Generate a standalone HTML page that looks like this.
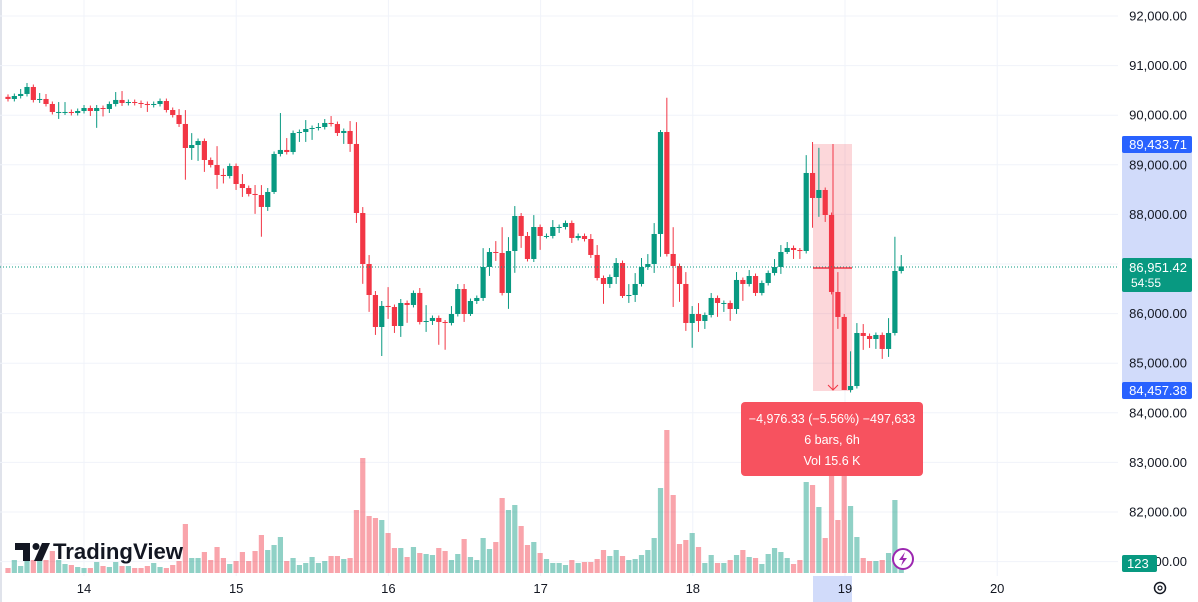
<!DOCTYPE html>
<html><head><meta charset="utf-8"><style>
html,body{margin:0;padding:0;background:#fff;width:1198px;height:602px;overflow:hidden}
svg{display:block;font-family:"Liberation Sans",sans-serif}
</style></head><body>
<svg id="chart" width="1198" height="602" viewBox="0 0 1198 602" xmlns="http://www.w3.org/2000/svg">
<rect x="0" y="0" width="2" height="602" fill="#e0e3eb"/>
<g id="grid"></g>
<g id="vol"></g>
<rect x="813" y="144" width="39" height="247" fill="rgba(242,54,69,0.2)"/>
<g id="candles"></g>
<line x1="0" y1="267" x2="1118" y2="267" stroke="#089981" stroke-width="1" stroke-dasharray="1,2"/>
<line x1="813" y1="268" x2="852" y2="268" stroke="#f23645" stroke-width="1.5"/>
<line x1="833" y1="144" x2="833" y2="390" stroke="#f23645" stroke-width="1"/>
<polyline points="828,385 833,390 838,385" fill="none" stroke="#f23645" stroke-width="1"/>
<g>
<rect x="741" y="402" width="182" height="74" rx="4" fill="#f7525f"/>
<text x="832" y="423" fill="#fff" font-size="12.5" text-anchor="middle">−4,976.33 (−5.56%) −497,633</text>
<text x="832" y="444" fill="#fff" font-size="12.5" text-anchor="middle">6 bars, 6h</text>
<text x="832" y="465" fill="#fff" font-size="12.5" text-anchor="middle">Vol 15.6 K</text>
</g>
<g id="yaxis">
<rect x="1122" y="136" width="70" height="262" fill="#d1dbfa"/>
</g>
<g id="xaxis">
<rect x="813" y="576" width="39" height="26" fill="#d1dbfa"/>
</g>
<g>
<rect x="1122" y="136" width="70" height="17" rx="2" fill="#2962ff"/>
<text x="1187" y="149" fill="#fff" font-size="13" text-anchor="end">89,433.71</text></g>
<g>
<rect x="1122" y="382" width="70" height="17" rx="2" fill="#2962ff"/>
<text x="1187" y="395" fill="#fff" font-size="13" text-anchor="end">84,457.38</text></g>
<g>
<rect x="1122" y="258" width="70" height="34" rx="2" fill="#089981"/>
<text x="1187" y="272" fill="#fff" font-size="13" text-anchor="end">86,951.42</text>
<text x="1131" y="287" fill="#fff" font-size="12">54:55</text></g>
<g>
<rect x="1122" y="555" width="35" height="17" rx="2" fill="#089981"/>
<text x="1127" y="568" fill="#fff" font-size="13">123</text></g>
<g>
<circle cx="1160" cy="588" r="5.5" fill="none" stroke="#131722" stroke-width="1.5"/>
<circle cx="1160" cy="588" r="2" fill="none" stroke="#131722" stroke-width="1.2"/></g>
<g>
<circle cx="903" cy="559" r="10" fill="#fff" stroke="#9c27b0" stroke-width="2"/>
<path d="M905,552 L899,560 L903,560 L901,566 L907,558 L903,558 Z" fill="#9c27b0"/></g>
<g>
<path d="M15,543 H30 V561 H23 V550 H15 Z" fill="#131722"/>
<circle cx="36" cy="546.5" r="3.5" fill="#131722"/>
<path d="M42,543 H50 L42,561 H34 Z" fill="#131722"/>
<text x="53" y="559" font-size="22.5" font-weight="bold" fill="#131722" textLength="130" lengthAdjust="spacingAndGlyphs">TradingView</text></g>
</svg>
<script>
const priceTicks=[92000,91000,90000,89000,88000,87000,86000,85000,84000,83000,82000,81000];
const dayLabels=["14","15","16","17","18","19","20"];
const closes=[90327,90387,90428,90569,90307,90327,90226,90065,90065,90065,
90044,90085,90145,90085,90145,90125,90226,90307,90246,90266,
90246,90226,90206,90226,90286,90105,90004,89823,89339,89399,
89480,89097,88996,88795,88774,88976,88613,88532,88412,88391,
88150,88452,89218,89299,89258,89641,89661,89722,89742,89762,
89843,89822,89641,89682,89420,88028,87000,86375,85730,86154,
86133,85750,86214,86174,86416,85831,85851,85912,85831,85811,
85992,86496,85992,86254,86315,86940,87242,87222,86416,87262,
87968,87565,87101,87746,87565,87565,87746,87746,87827,87525,
87565,87504,87182,86718,86597,86738,87020,86355,86375,86597,
86940,87000,87605,89661,87202,86960,86597,85811,85992,85851,
85972,86315,86214,86214,86093,86678,86597,86758,86416,86617,
86819,86940,87242,87323,87282,87262,88835,88331,88492,87988,
86436,85932,84460,84540,85609,85549,85488,85569,85287,85609,
86859,86951];
const opens=[90370,90327,90387,90428,90569,90307,90327,90226,90065,90065,
90065,90044,90085,90145,90085,90145,90125,90226,90307,90246,
90266,90246,90226,90206,90226,90286,90105,90004,89823,89339,
89399,89480,89097,88996,88795,88774,88976,88613,88532,88412,
88391,88150,88452,89218,89299,89258,89641,89661,89722,89742,
89762,89843,89822,89641,89682,89420,88028,87000,86375,85730,
86154,86133,85750,86214,86174,86416,85831,85851,85912,85831,
85811,85992,86496,85992,86254,86315,86940,87242,87222,86416,
87262,87968,87565,87101,87746,87565,87565,87746,87746,87827,
87525,87565,87504,87182,86718,86597,86738,87020,86355,86375,
86597,86940,87000,87605,89661,87202,86960,86597,85811,85992,
85851,85972,86315,86214,86214,86093,86678,86597,86758,86416,
86617,86819,86940,87242,87323,87282,87262,88835,88331,88492,
87988,86436,85932,84460,84540,85609,85549,85488,85569,85287,
85609,86859];
const upWick=[50,50,100,80,50,120,100,50,200,200,
50,50,60,50,60,50,50,160,180,50,
50,50,50,50,50,50,50,120,280,240,
50,50,50,380,130,50,50,200,50,180,
200,80,50,745,240,50,50,180,50,80,
80,140,50,50,200,440,120,180,80,100,
380,50,80,50,50,100,320,50,50,40,
160,100,100,50,50,380,80,220,520,280,
200,60,80,240,50,50,140,50,50,50,
50,50,100,200,50,50,100,50,220,220,
180,200,220,40,690,540,50,240,160,220,
50,100,50,50,50,160,50,120,50,50,
50,160,140,120,50,40,360,625,850,50,
50,400,60,700,200,180,50,50,50,300,
690,230];
const downWick=[50,50,50,50,50,60,50,50,140,60,
50,50,50,100,340,150,80,50,60,50,
50,80,140,50,50,50,50,60,640,240,
320,240,50,280,150,50,120,180,50,380,
600,80,40,50,50,50,180,200,220,50,
50,50,60,220,160,200,400,340,160,585,
240,140,220,360,50,50,200,80,460,540,
50,50,160,40,60,60,180,160,50,320,
440,240,50,60,280,50,50,120,50,100,
50,50,60,50,400,80,140,40,140,140,
50,60,180,460,50,826,360,160,500,220,
160,50,280,180,240,100,340,50,60,50,
50,50,140,40,180,160,50,600,380,140,
50,240,0,50,50,280,180,200,200,160,
50,50];
const volumes=[500,1300,700,1300,1300,1300,1300,2200,1300,900,
800,600,500,500,1100,700,600,1100,700,700,
500,500,700,1000,600,500,800,1200,4900,1500,
1500,2100,1300,2600,1500,900,1200,2100,1200,2200,
3800,2300,2800,3600,1200,1500,800,1000,1600,1000,
1200,1700,1700,1400,1500,6300,11500,5700,5500,5300,
4000,2500,2500,1600,2600,2000,1900,1800,2500,2200,
1300,1900,3400,1600,1300,3500,2400,3100,7500,6300,
6800,4700,2800,3100,2000,1400,1000,1000,800,1300,
1000,1100,1100,1400,2300,1700,2300,1700,1300,1400,
1800,2300,3500,8500,14300,7800,2900,3300,4000,2600,
1000,1800,1000,1000,1300,1800,2300,1600,1500,900,
1900,2500,2100,1500,900,1300,9100,8800,6600,3500,
11000,5300,11000,6700,3600,1500,1200,1200,1300,2000,
7300,500];

const NS="http://www.w3.org/2000/svg";
function mk(tag,attrs,parent){const e=document.createElementNS(NS,tag);for(const k in attrs)e.setAttribute(k,attrs[k]);parent.appendChild(e);return e;}
const yScale=p=>16+(92000-p)*0.0496;
const xScale=i=>8+i*6.335;
const dayX=d=>84+d*152.2;
const volY=v=>573-v/100;
const grid=document.getElementById('grid'),yaxis=document.getElementById('yaxis'),xaxis=document.getElementById('xaxis');
priceTicks.forEach(p=>{
  const l=mk('line',{x1:0,x2:1118,y1:yScale(p),y2:yScale(p),stroke:'#f0f3fa','stroke-width':1},grid);
  
  
  const t=mk('text',{x:1187,y:yScale(p)+4.5,'font-size':13,fill:'#131722','text-anchor':'end'},yaxis);
  t.textContent=p.toLocaleString('en-US',{minimumFractionDigits:2});
  
  
});
dayLabels.forEach((d,k)=>{
  const l=mk('line',{x1:dayX(k),x2:dayX(k),y1:0,y2:576,stroke:'#f0f3fa','stroke-width':1},grid);
  
  
  const t=mk('text',{x:dayX(k),y:593,'font-size':13,fill:'#131722','text-anchor':'middle'},xaxis);
  t.textContent=d;
  
  
});
const cg=document.getElementById('candles'),vg=document.getElementById('vol');
closes.forEach((c,i)=>{
  const o=opens[i],up=c>=o,col=up?'#089981':'#f23645';
  const x=xScale(i);
  const hi=Math.max(o,c)+upWick[i],lo=Math.min(o,c)-downWick[i];
  const v=mk('rect',{x:x-2.6,y:volY(volumes[i]),width:5.2,height:573-volY(volumes[i]),fill:up?'rgba(8,153,129,0.45)':'rgba(242,54,69,0.45)'},vg);
  
  
  const w=mk('line',{x1:x,x2:x,y1:yScale(hi),y2:yScale(lo),stroke:col,'stroke-width':1},cg);
  
  
  const top=yScale(Math.max(o,c)),bh=Math.max(1,yScale(Math.min(o,c))-top);
  const b=mk('rect',{x:x-2.6,y:top,width:5.2,height:bh,fill:col},cg);
  
  
});
</script>
</body></html>
